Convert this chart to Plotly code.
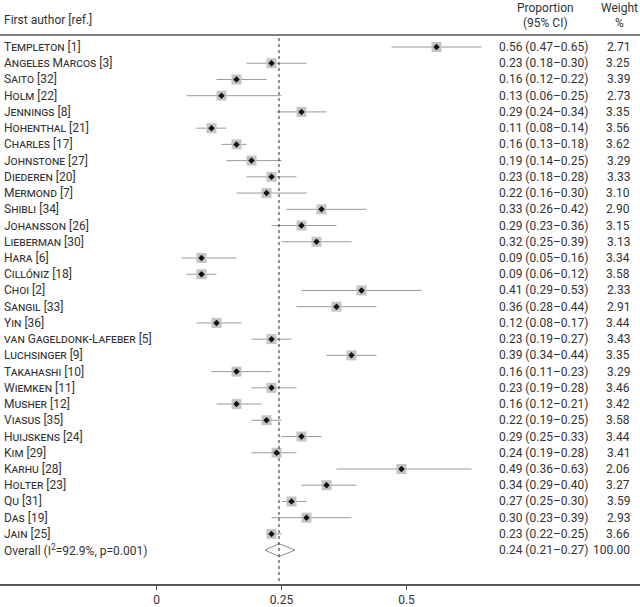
import plotly.graph_objects as go

studies = ["Templeton [1]", "Angeles Marcos [3]", "Saito [32]", "Holm [22]", "Jennings [8]",
           "Hohenthal [21]", "Charles [17]", "Johnstone [27]", "Diederen [20]", "Mermond [7]",
           "Shibli [34]", "Johansson [26]", "Lieberman [30]", "Hara [6]", "Cillóniz [18]",
           "Choi [2]", "Sangil [33]", "Yin [36]", "van Gageldonk-Lafeber [5]", "Luchsinger [9]",
           "Takahashi [10]", "Wiemken [11]", "Musher [12]", "Viasus [35]", "Huijskens [24]",
           "Kim [29]", "Karhu [28]", "Holter [23]", "Qu [31]", "Das [19]", "Jain [25]"]
prop = [0.56, 0.23, 0.16, 0.13, 0.29, 0.11, 0.16, 0.19, 0.23, 0.22, 0.33, 0.29, 0.32, 0.09, 0.09,
        0.41, 0.36, 0.12, 0.23, 0.39, 0.16, 0.23, 0.16, 0.22, 0.29, 0.24, 0.49, 0.34, 0.27, 0.30, 0.23]
lower = [0.47, 0.18, 0.12, 0.06, 0.24, 0.08, 0.13, 0.14, 0.18, 0.16, 0.26, 0.23, 0.25, 0.05, 0.06,
         0.29, 0.28, 0.08, 0.19, 0.34, 0.11, 0.19, 0.12, 0.19, 0.25, 0.19, 0.36, 0.29, 0.25, 0.23, 0.22]
upper = [0.65, 0.30, 0.22, 0.25, 0.34, 0.14, 0.18, 0.25, 0.28, 0.30, 0.42, 0.36, 0.39, 0.16, 0.12,
         0.53, 0.44, 0.17, 0.27, 0.44, 0.23, 0.28, 0.21, 0.25, 0.33, 0.28, 0.63, 0.40, 0.30, 0.39, 0.25]
weight = [2.71, 3.25, 3.39, 2.73, 3.35, 3.56, 3.62, 3.29, 3.33, 3.10, 2.90, 3.15, 3.13, 3.34, 3.58,
          2.33, 2.91, 3.44, 3.43, 3.35, 3.29, 3.46, 3.42, 3.58, 3.44, 3.41, 2.06, 3.27, 3.59, 2.93, 3.66]

overall_label = "Overall (I<sup>2</sup>=92.9%, p=0.001)"
overall_text = "0.24 (0.21–0.27)"
overall_weight = "100.00"
overall_est = 0.245   # plotted position of pooled estimate (diamond centre / dashed line)
overall_lo = 0.217
overall_hi = 0.277

x_ticks = [0, 0.25, 0.5]
x_ticklabels = ["0", "0.25", "0.5"]

W, H = 640, 607
row0_px, row_step = 47, 16.23
plot_bottom_px = 584
x0_px, unit_px = 156.5, 500.0

def px2x(p):
    return (p - x0_px) / unit_px

def py2y(p):
    return (p - row0_px) / row_step

n = len(studies)
rows = list(range(n))
overall_row = n

TXT = "#333333"
FONT = "Roboto"
FS = 12

fig = go.Figure()

# CI lines
ci_x, ci_y = [], []
for i in rows:
    ci_x += [lower[i], upper[i], None]
    ci_y += [i, i, None]
fig.add_trace(go.Scatter(x=ci_x, y=ci_y, mode="lines",
                         line=dict(color="#9a9a9a", width=1), hoverinfo="skip"))

# weight squares
fig.add_trace(go.Scatter(x=prop, y=rows, mode="markers",
                         marker=dict(symbol="square", size=10, color="#c4c4c4", line=dict(width=0)),
                         hoverinfo="skip"))
# point estimate
fig.add_trace(go.Scatter(x=prop, y=rows, mode="markers",
                         marker=dict(symbol="diamond", size=5, color="#111111", line=dict(width=0)),
                         hoverinfo="skip"))

# overall diamond
dh = 0.4
fig.add_trace(go.Scatter(x=[overall_lo, overall_est, overall_hi, overall_est, overall_lo],
                         y=[overall_row, overall_row - dh, overall_row, overall_row + dh, overall_row],
                         mode="lines", fill="toself", fillcolor="white",
                         line=dict(color="#8a8a8a", width=1), hoverinfo="skip"))

y_top = py2y(0)
y_bot = py2y(plot_bottom_px)

shapes = [
    dict(type="line", xref="paper", yref="y", x0=0, x1=1, y0=py2y(35), y1=py2y(35),
         line=dict(color="#555555", width=1.5)),
    dict(type="line", xref="x", yref="y", x0=overall_est, x1=overall_est, y0=py2y(38), y1=y_bot,
         line=dict(color="#222222", width=1, dash="3px,3px")),
]

annotations = []
for i in rows:
    annotations.append(dict(xref="paper", yref="y", x=2 / W, y=i, text=studies[i], showarrow=False,
                            xanchor="left", yanchor="middle",
                            font=dict(family=FONT, size=FS, color=TXT, variant="small-caps")))
    annotations.append(dict(xref="paper", yref="y", x=497 / W, y=i,
                            text=f"{prop[i]:.2f} ({lower[i]:.2f}–{upper[i]:.2f})", showarrow=False,
                            xanchor="left", yanchor="middle", font=dict(family=FONT, size=FS, color=TXT)))
    annotations.append(dict(xref="paper", yref="y", x=632 / W, y=i, text=f"{weight[i]:.2f}",
                            showarrow=False, xanchor="right", yanchor="middle",
                            font=dict(family=FONT, size=FS, color=TXT)))
annotations.append(dict(xref="paper", yref="y", x=2 / W, y=overall_row, text=overall_label, showarrow=False,
                        xanchor="left", yanchor="middle", font=dict(family=FONT, size=FS, color=TXT)))
annotations.append(dict(xref="paper", yref="y", x=497 / W, y=overall_row, text=overall_text, showarrow=False,
                        xanchor="left", yanchor="middle", font=dict(family=FONT, size=FS, color=TXT)))
annotations.append(dict(xref="paper", yref="y", x=632 / W, y=overall_row, text=overall_weight, showarrow=False,
                        xanchor="right", yanchor="middle", font=dict(family=FONT, size=FS, color=TXT)))

# headers
annotations += [
    dict(xref="paper", yref="y", x=2 / W, y=py2y(20), text="First author [ref.]", showarrow=False,
         xanchor="left", yanchor="middle", font=dict(family=FONT, size=FS, color=TXT)),
    dict(xref="paper", yref="y", x=545 / W, y=py2y(8), text="Proportion", showarrow=False,
         xanchor="center", yanchor="middle", font=dict(family=FONT, size=FS, color=TXT)),
    dict(xref="paper", yref="y", x=545 / W, y=py2y(23), text="(95% CI)", showarrow=False,
         xanchor="center", yanchor="middle", font=dict(family=FONT, size=FS, color=TXT)),
    dict(xref="paper", yref="y", x=619 / W, y=py2y(8), text="Weight", showarrow=False,
         xanchor="center", yanchor="middle", font=dict(family=FONT, size=FS, color=TXT)),
    dict(xref="paper", yref="y", x=619 / W, y=py2y(23), text="%", showarrow=False,
         xanchor="center", yanchor="middle", font=dict(family=FONT, size=FS, color=TXT)),
]

fig.update_layout(
    width=W, height=H,
    margin=dict(l=0, r=0, t=0, b=H - plot_bottom_px),
    paper_bgcolor="white", plot_bgcolor="white",
    showlegend=False,
    shapes=shapes,
    annotations=annotations,
    xaxis=dict(range=[px2x(0), px2x(W)], tickvals=x_ticks, ticktext=x_ticklabels,
               showgrid=False, zeroline=False, showline=True, linecolor="#555555", linewidth=1.5,
               ticks="outside", ticklen=4, tickcolor="#555555",
               tickfont=dict(family=FONT, size=FS, color=TXT), fixedrange=True),
    yaxis=dict(range=[y_bot, y_top], showgrid=False, zeroline=False, showline=False,
               showticklabels=False, ticks="", fixedrange=True),
)

fig.write_html("out.html", config={"displayModeBar": False},
               post_script="document.body.style.margin='0';document.body.style.padding='0';"
                           "document.body.style.overflow='hidden';")
